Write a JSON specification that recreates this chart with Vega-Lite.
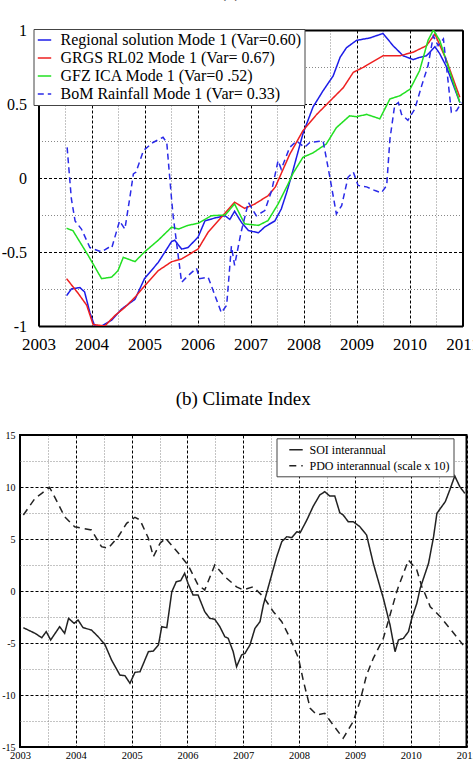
{
  "$schema": "https://vega.github.io/schema/vega-lite/v6.json",
  "padding": {"left": 0, "top": -18, "right": 0, "bottom": 0},
  "autosize": {"type": "pad"},
  "background": "white",
  "spacing": 37,
  "resolve": {"scale": {"color": "independent", "strokeDash": "independent"}, "legend": {"color": "independent", "strokeDash": "independent"}},
  "datasets": {
    "pca": [
      {"s": "Regional solution Mode 1 (Var=0.60)", "t": 2003.53, "v": -0.795},
      {"s": "Regional solution Mode 1 (Var=0.60)", "t": 2003.62, "v": -0.75},
      {"s": "Regional solution Mode 1 (Var=0.60)", "t": 2003.78, "v": -0.74},
      {"s": "Regional solution Mode 1 (Var=0.60)", "t": 2003.87, "v": -0.77},
      {"s": "Regional solution Mode 1 (Var=0.60)", "t": 2003.97, "v": -0.91},
      {"s": "Regional solution Mode 1 (Var=0.60)", "t": 2004.06, "v": -1.0},
      {"s": "Regional solution Mode 1 (Var=0.60)", "t": 2004.19, "v": -1.0},
      {"s": "Regional solution Mode 1 (Var=0.60)", "t": 2004.38, "v": -0.96},
      {"s": "Regional solution Mode 1 (Var=0.60)", "t": 2004.57, "v": -0.885},
      {"s": "Regional solution Mode 1 (Var=0.60)", "t": 2004.82, "v": -0.82},
      {"s": "Regional solution Mode 1 (Var=0.60)", "t": 2005.0, "v": -0.68},
      {"s": "Regional solution Mode 1 (Var=0.60)", "t": 2005.26, "v": -0.57},
      {"s": "Regional solution Mode 1 (Var=0.60)", "t": 2005.51, "v": -0.43},
      {"s": "Regional solution Mode 1 (Var=0.60)", "t": 2005.57, "v": -0.42},
      {"s": "Regional solution Mode 1 (Var=0.60)", "t": 2005.70, "v": -0.48},
      {"s": "Regional solution Mode 1 (Var=0.60)", "t": 2005.82, "v": -0.47},
      {"s": "Regional solution Mode 1 (Var=0.60)", "t": 2006.01, "v": -0.40},
      {"s": "Regional solution Mode 1 (Var=0.60)", "t": 2006.14, "v": -0.29},
      {"s": "Regional solution Mode 1 (Var=0.60)", "t": 2006.33, "v": -0.27},
      {"s": "Regional solution Mode 1 (Var=0.60)", "t": 2006.52, "v": -0.255},
      {"s": "Regional solution Mode 1 (Var=0.60)", "t": 2006.61, "v": -0.28},
      {"s": "Regional solution Mode 1 (Var=0.60)", "t": 2006.70, "v": -0.225},
      {"s": "Regional solution Mode 1 (Var=0.60)", "t": 2006.83, "v": -0.30},
      {"s": "Regional solution Mode 1 (Var=0.60)", "t": 2006.96, "v": -0.355},
      {"s": "Regional solution Mode 1 (Var=0.60)", "t": 2007.15, "v": -0.37},
      {"s": "Regional solution Mode 1 (Var=0.60)", "t": 2007.27, "v": -0.33},
      {"s": "Regional solution Mode 1 (Var=0.60)", "t": 2007.46, "v": -0.29},
      {"s": "Regional solution Mode 1 (Var=0.60)", "t": 2007.58, "v": -0.21},
      {"s": "Regional solution Mode 1 (Var=0.60)", "t": 2007.68, "v": -0.10},
      {"s": "Regional solution Mode 1 (Var=0.60)", "t": 2007.77, "v": 0.01},
      {"s": "Regional solution Mode 1 (Var=0.60)", "t": 2007.99, "v": 0.30},
      {"s": "Regional solution Mode 1 (Var=0.60)", "t": 2008.18, "v": 0.48},
      {"s": "Regional solution Mode 1 (Var=0.60)", "t": 2008.37, "v": 0.59},
      {"s": "Regional solution Mode 1 (Var=0.60)", "t": 2008.56, "v": 0.69},
      {"s": "Regional solution Mode 1 (Var=0.60)", "t": 2008.69, "v": 0.815},
      {"s": "Regional solution Mode 1 (Var=0.60)", "t": 2008.81, "v": 0.88},
      {"s": "Regional solution Mode 1 (Var=0.60)", "t": 2009.0, "v": 0.93},
      {"s": "Regional solution Mode 1 (Var=0.60)", "t": 2009.25, "v": 0.946},
      {"s": "Regional solution Mode 1 (Var=0.60)", "t": 2009.50, "v": 0.977},
      {"s": "Regional solution Mode 1 (Var=0.60)", "t": 2009.69, "v": 0.894},
      {"s": "Regional solution Mode 1 (Var=0.60)", "t": 2009.88, "v": 0.826},
      {"s": "Regional solution Mode 1 (Var=0.60)", "t": 2010.07, "v": 0.80},
      {"s": "Regional solution Mode 1 (Var=0.60)", "t": 2010.19, "v": 0.815},
      {"s": "Regional solution Mode 1 (Var=0.60)", "t": 2010.32, "v": 0.826},
      {"s": "Regional solution Mode 1 (Var=0.60)", "t": 2010.48, "v": 0.887},
      {"s": "Regional solution Mode 1 (Var=0.60)", "t": 2010.57, "v": 0.84},
      {"s": "Regional solution Mode 1 (Var=0.60)", "t": 2010.70, "v": 0.75},
      {"s": "Regional solution Mode 1 (Var=0.60)", "t": 2010.95, "v": 0.51},

      {"s": "GRGS RL02 Mode 1 (Var= 0.67)", "t": 2003.53, "v": -0.68},
      {"s": "GRGS RL02 Mode 1 (Var= 0.67)", "t": 2003.75, "v": -0.78},
      {"s": "GRGS RL02 Mode 1 (Var= 0.67)", "t": 2003.91, "v": -0.86},
      {"s": "GRGS RL02 Mode 1 (Var= 0.67)", "t": 2004.03, "v": -0.99},
      {"s": "GRGS RL02 Mode 1 (Var= 0.67)", "t": 2004.25, "v": -1.0},
      {"s": "GRGS RL02 Mode 1 (Var= 0.67)", "t": 2004.44, "v": -0.93},
      {"s": "GRGS RL02 Mode 1 (Var= 0.67)", "t": 2004.63, "v": -0.874},
      {"s": "GRGS RL02 Mode 1 (Var= 0.67)", "t": 2004.82, "v": -0.806},
      {"s": "GRGS RL02 Mode 1 (Var= 0.67)", "t": 2005.0, "v": -0.73},
      {"s": "GRGS RL02 Mode 1 (Var= 0.67)", "t": 2005.26, "v": -0.626},
      {"s": "GRGS RL02 Mode 1 (Var= 0.67)", "t": 2005.51, "v": -0.566},
      {"s": "GRGS RL02 Mode 1 (Var= 0.67)", "t": 2005.70, "v": -0.547},
      {"s": "GRGS RL02 Mode 1 (Var= 0.67)", "t": 2006.01, "v": -0.48},
      {"s": "GRGS RL02 Mode 1 (Var= 0.67)", "t": 2006.20, "v": -0.367},
      {"s": "GRGS RL02 Mode 1 (Var= 0.67)", "t": 2006.45, "v": -0.266},
      {"s": "GRGS RL02 Mode 1 (Var= 0.67)", "t": 2006.70, "v": -0.164},
      {"s": "GRGS RL02 Mode 1 (Var= 0.67)", "t": 2006.89, "v": -0.205},
      {"s": "GRGS RL02 Mode 1 (Var= 0.67)", "t": 2007.08, "v": -0.176},
      {"s": "GRGS RL02 Mode 1 (Var= 0.67)", "t": 2007.33, "v": -0.12},
      {"s": "GRGS RL02 Mode 1 (Var= 0.67)", "t": 2007.47, "v": -0.06},
      {"s": "GRGS RL02 Mode 1 (Var= 0.67)", "t": 2007.58, "v": 0.03},
      {"s": "GRGS RL02 Mode 1 (Var= 0.67)", "t": 2007.74, "v": 0.16},
      {"s": "GRGS RL02 Mode 1 (Var= 0.67)", "t": 2007.99, "v": 0.32},
      {"s": "GRGS RL02 Mode 1 (Var= 0.67)", "t": 2008.25, "v": 0.43},
      {"s": "GRGS RL02 Mode 1 (Var= 0.67)", "t": 2008.50, "v": 0.52},
      {"s": "GRGS RL02 Mode 1 (Var= 0.67)", "t": 2008.75, "v": 0.61},
      {"s": "GRGS RL02 Mode 1 (Var= 0.67)", "t": 2008.94, "v": 0.714},
      {"s": "GRGS RL02 Mode 1 (Var= 0.67)", "t": 2009.13, "v": 0.748},
      {"s": "GRGS RL02 Mode 1 (Var= 0.67)", "t": 2009.50, "v": 0.826},
      {"s": "GRGS RL02 Mode 1 (Var= 0.67)", "t": 2009.82, "v": 0.826},
      {"s": "GRGS RL02 Mode 1 (Var= 0.67)", "t": 2010.07, "v": 0.85},
      {"s": "GRGS RL02 Mode 1 (Var= 0.67)", "t": 2010.32, "v": 0.894},
      {"s": "GRGS RL02 Mode 1 (Var= 0.67)", "t": 2010.48, "v": 0.973},
      {"s": "GRGS RL02 Mode 1 (Var= 0.67)", "t": 2010.70, "v": 0.793},
      {"s": "GRGS RL02 Mode 1 (Var= 0.67)", "t": 2010.95, "v": 0.545},

      {"s": "GFZ ICA Mode 1 (Var=0 .52)", "t": 2003.53, "v": -0.34},
      {"s": "GFZ ICA Mode 1 (Var=0 .52)", "t": 2003.65, "v": -0.356},
      {"s": "GFZ ICA Mode 1 (Var=0 .52)", "t": 2003.94, "v": -0.525},
      {"s": "GFZ ICA Mode 1 (Var=0 .52)", "t": 2004.19, "v": -0.68},
      {"s": "GFZ ICA Mode 1 (Var=0 .52)", "t": 2004.38, "v": -0.67},
      {"s": "GFZ ICA Mode 1 (Var=0 .52)", "t": 2004.50, "v": -0.626},
      {"s": "GFZ ICA Mode 1 (Var=0 .52)", "t": 2004.60, "v": -0.536},
      {"s": "GFZ ICA Mode 1 (Var=0 .52)", "t": 2004.82, "v": -0.565},
      {"s": "GFZ ICA Mode 1 (Var=0 .52)", "t": 2005.0, "v": -0.50},
      {"s": "GFZ ICA Mode 1 (Var=0 .52)", "t": 2005.26, "v": -0.42},
      {"s": "GFZ ICA Mode 1 (Var=0 .52)", "t": 2005.51, "v": -0.333},
      {"s": "GFZ ICA Mode 1 (Var=0 .52)", "t": 2005.64, "v": -0.345},
      {"s": "GFZ ICA Mode 1 (Var=0 .52)", "t": 2005.82, "v": -0.32},
      {"s": "GFZ ICA Mode 1 (Var=0 .52)", "t": 2006.01, "v": -0.306},
      {"s": "GFZ ICA Mode 1 (Var=0 .52)", "t": 2006.26, "v": -0.255},
      {"s": "GFZ ICA Mode 1 (Var=0 .52)", "t": 2006.52, "v": -0.25},
      {"s": "GFZ ICA Mode 1 (Var=0 .52)", "t": 2006.70, "v": -0.176},
      {"s": "GFZ ICA Mode 1 (Var=0 .52)", "t": 2006.89, "v": -0.31},
      {"s": "GFZ ICA Mode 1 (Var=0 .52)", "t": 2007.15, "v": -0.32},
      {"s": "GFZ ICA Mode 1 (Var=0 .52)", "t": 2007.33, "v": -0.288},
      {"s": "GFZ ICA Mode 1 (Var=0 .52)", "t": 2007.52, "v": -0.176},
      {"s": "GFZ ICA Mode 1 (Var=0 .52)", "t": 2007.71, "v": -0.04},
      {"s": "GFZ ICA Mode 1 (Var=0 .52)", "t": 2007.80, "v": 0.03},
      {"s": "GFZ ICA Mode 1 (Var=0 .52)", "t": 2007.99, "v": 0.14},
      {"s": "GFZ ICA Mode 1 (Var=0 .52)", "t": 2008.18, "v": 0.17},
      {"s": "GFZ ICA Mode 1 (Var=0 .52)", "t": 2008.43, "v": 0.23},
      {"s": "GFZ ICA Mode 1 (Var=0 .52)", "t": 2008.62, "v": 0.34},
      {"s": "GFZ ICA Mode 1 (Var=0 .52)", "t": 2008.87, "v": 0.42},
      {"s": "GFZ ICA Mode 1 (Var=0 .52)", "t": 2009.0, "v": 0.414},
      {"s": "GFZ ICA Mode 1 (Var=0 .52)", "t": 2009.19, "v": 0.43},
      {"s": "GFZ ICA Mode 1 (Var=0 .52)", "t": 2009.44, "v": 0.40},
      {"s": "GFZ ICA Mode 1 (Var=0 .52)", "t": 2009.63, "v": 0.534},
      {"s": "GFZ ICA Mode 1 (Var=0 .52)", "t": 2009.82, "v": 0.556},
      {"s": "GFZ ICA Mode 1 (Var=0 .52)", "t": 2010.01, "v": 0.60},
      {"s": "GFZ ICA Mode 1 (Var=0 .52)", "t": 2010.19, "v": 0.725},
      {"s": "GFZ ICA Mode 1 (Var=0 .52)", "t": 2010.35, "v": 0.93},
      {"s": "GFZ ICA Mode 1 (Var=0 .52)", "t": 2010.45, "v": 1.0},
      {"s": "GFZ ICA Mode 1 (Var=0 .52)", "t": 2010.57, "v": 0.93},
      {"s": "GFZ ICA Mode 1 (Var=0 .52)", "t": 2010.95, "v": 0.51},

      {"s": "BoM Rainfall Mode 1 (Var= 0.33)", "t": 2003.54, "v": 0.207},
      {"s": "BoM Rainfall Mode 1 (Var= 0.33)", "t": 2003.62, "v": -0.14},
      {"s": "BoM Rainfall Mode 1 (Var= 0.33)", "t": 2003.69, "v": -0.29},
      {"s": "BoM Rainfall Mode 1 (Var= 0.33)", "t": 2003.81, "v": -0.345},
      {"s": "BoM Rainfall Mode 1 (Var= 0.33)", "t": 2003.97, "v": -0.47},
      {"s": "BoM Rainfall Mode 1 (Var= 0.33)", "t": 2004.19, "v": -0.50},
      {"s": "BoM Rainfall Mode 1 (Var= 0.33)", "t": 2004.32, "v": -0.47},
      {"s": "BoM Rainfall Mode 1 (Var= 0.33)", "t": 2004.38, "v": -0.475},
      {"s": "BoM Rainfall Mode 1 (Var= 0.33)", "t": 2004.53, "v": -0.29},
      {"s": "BoM Rainfall Mode 1 (Var= 0.33)", "t": 2004.63, "v": -0.345},
      {"s": "BoM Rainfall Mode 1 (Var= 0.33)", "t": 2004.72, "v": -0.14},
      {"s": "BoM Rainfall Mode 1 (Var= 0.33)", "t": 2004.79, "v": 0.027},
      {"s": "BoM Rainfall Mode 1 (Var= 0.33)", "t": 2004.84, "v": 0.04},
      {"s": "BoM Rainfall Mode 1 (Var= 0.33)", "t": 2004.98, "v": 0.185},
      {"s": "BoM Rainfall Mode 1 (Var= 0.33)", "t": 2005.16, "v": 0.24},
      {"s": "BoM Rainfall Mode 1 (Var= 0.33)", "t": 2005.35, "v": 0.275},
      {"s": "BoM Rainfall Mode 1 (Var= 0.33)", "t": 2005.42, "v": 0.24},
      {"s": "BoM Rainfall Mode 1 (Var= 0.33)", "t": 2005.51, "v": -0.14},
      {"s": "BoM Rainfall Mode 1 (Var= 0.33)", "t": 2005.54, "v": -0.255},
      {"s": "BoM Rainfall Mode 1 (Var= 0.33)", "t": 2005.70, "v": -0.705},
      {"s": "BoM Rainfall Mode 1 (Var= 0.33)", "t": 2005.82, "v": -0.66},
      {"s": "BoM Rainfall Mode 1 (Var= 0.33)", "t": 2005.98, "v": -0.61},
      {"s": "BoM Rainfall Mode 1 (Var= 0.33)", "t": 2006.04, "v": -0.68},
      {"s": "BoM Rainfall Mode 1 (Var= 0.33)", "t": 2006.20, "v": -0.67},
      {"s": "BoM Rainfall Mode 1 (Var= 0.33)", "t": 2006.45, "v": -0.91},
      {"s": "BoM Rainfall Mode 1 (Var= 0.33)", "t": 2006.55, "v": -0.86},
      {"s": "BoM Rainfall Mode 1 (Var= 0.33)", "t": 2006.64, "v": -0.46},
      {"s": "BoM Rainfall Mode 1 (Var= 0.33)", "t": 2006.70, "v": -0.59},
      {"s": "BoM Rainfall Mode 1 (Var= 0.33)", "t": 2006.82, "v": -0.37},
      {"s": "BoM Rainfall Mode 1 (Var= 0.33)", "t": 2006.96, "v": -0.165},
      {"s": "BoM Rainfall Mode 1 (Var= 0.33)", "t": 2007.11, "v": -0.255},
      {"s": "BoM Rainfall Mode 1 (Var= 0.33)", "t": 2007.27, "v": -0.22},
      {"s": "BoM Rainfall Mode 1 (Var= 0.33)", "t": 2007.40, "v": -0.085},
      {"s": "BoM Rainfall Mode 1 (Var= 0.33)", "t": 2007.52, "v": 0.117},
      {"s": "BoM Rainfall Mode 1 (Var= 0.33)", "t": 2007.58, "v": 0.06},
      {"s": "BoM Rainfall Mode 1 (Var= 0.33)", "t": 2007.74, "v": 0.207},
      {"s": "BoM Rainfall Mode 1 (Var= 0.33)", "t": 2007.87, "v": 0.25},
      {"s": "BoM Rainfall Mode 1 (Var= 0.33)", "t": 2008.02, "v": 0.207},
      {"s": "BoM Rainfall Mode 1 (Var= 0.33)", "t": 2008.12, "v": 0.24},
      {"s": "BoM Rainfall Mode 1 (Var= 0.33)", "t": 2008.37, "v": 0.25},
      {"s": "BoM Rainfall Mode 1 (Var= 0.33)", "t": 2008.50, "v": 0.0},
      {"s": "BoM Rainfall Mode 1 (Var= 0.33)", "t": 2008.62, "v": -0.243},
      {"s": "BoM Rainfall Mode 1 (Var= 0.33)", "t": 2008.72, "v": -0.187},
      {"s": "BoM Rainfall Mode 1 (Var= 0.33)", "t": 2008.84, "v": 0.005},
      {"s": "BoM Rainfall Mode 1 (Var= 0.33)", "t": 2008.94, "v": 0.04},
      {"s": "BoM Rainfall Mode 1 (Var= 0.33)", "t": 2009.03, "v": -0.05},
      {"s": "BoM Rainfall Mode 1 (Var= 0.33)", "t": 2009.19, "v": -0.06},
      {"s": "BoM Rainfall Mode 1 (Var= 0.33)", "t": 2009.35, "v": -0.085},
      {"s": "BoM Rainfall Mode 1 (Var= 0.33)", "t": 2009.47, "v": -0.10},
      {"s": "BoM Rainfall Mode 1 (Var= 0.33)", "t": 2009.57, "v": -0.05},
      {"s": "BoM Rainfall Mode 1 (Var= 0.33)", "t": 2009.63, "v": 0.26},
      {"s": "BoM Rainfall Mode 1 (Var= 0.33)", "t": 2009.72, "v": 0.49},
      {"s": "BoM Rainfall Mode 1 (Var= 0.33)", "t": 2009.79, "v": 0.51},
      {"s": "BoM Rainfall Mode 1 (Var= 0.33)", "t": 2009.85, "v": 0.43},
      {"s": "BoM Rainfall Mode 1 (Var= 0.33)", "t": 2009.97, "v": 0.39},
      {"s": "BoM Rainfall Mode 1 (Var= 0.33)", "t": 2010.10, "v": 0.466},
      {"s": "BoM Rainfall Mode 1 (Var= 0.33)", "t": 2010.23, "v": 0.624},
      {"s": "BoM Rainfall Mode 1 (Var= 0.33)", "t": 2010.35, "v": 0.76},
      {"s": "BoM Rainfall Mode 1 (Var= 0.33)", "t": 2010.45, "v": 0.96},
      {"s": "BoM Rainfall Mode 1 (Var= 0.33)", "t": 2010.54, "v": 0.894},
      {"s": "BoM Rainfall Mode 1 (Var= 0.33)", "t": 2010.64, "v": 0.94},
      {"s": "BoM Rainfall Mode 1 (Var= 0.33)", "t": 2010.73, "v": 0.647},
      {"s": "BoM Rainfall Mode 1 (Var= 0.33)", "t": 2010.79, "v": 0.444},
      {"s": "BoM Rainfall Mode 1 (Var= 0.33)", "t": 2010.89, "v": 0.455},
      {"s": "BoM Rainfall Mode 1 (Var= 0.33)", "t": 2010.98, "v": 0.51}
    ],
    "climate": [
      {"s": "SOI interannual", "t": 2003.06, "v": -3.53},
      {"s": "SOI interannual", "t": 2003.27, "v": -4.07},
      {"s": "SOI interannual", "t": 2003.39, "v": -4.49},
      {"s": "SOI interannual", "t": 2003.47, "v": -3.91},
      {"s": "SOI interannual", "t": 2003.55, "v": -4.71},
      {"s": "SOI interannual", "t": 2003.71, "v": -3.43},
      {"s": "SOI interannual", "t": 2003.80, "v": -4.07},
      {"s": "SOI interannual", "t": 2003.87, "v": -2.63},
      {"s": "SOI interannual", "t": 2003.97, "v": -3.11},
      {"s": "SOI interannual", "t": 2004.04, "v": -2.79},
      {"s": "SOI interannual", "t": 2004.13, "v": -3.53},
      {"s": "SOI interannual", "t": 2004.28, "v": -3.75},
      {"s": "SOI interannual", "t": 2004.40, "v": -4.39},
      {"s": "SOI interannual", "t": 2004.52, "v": -5.13},
      {"s": "SOI interannual", "t": 2004.64, "v": -6.63},
      {"s": "SOI interannual", "t": 2004.79, "v": -8.08},
      {"s": "SOI interannual", "t": 2004.88, "v": -8.14},
      {"s": "SOI interannual", "t": 2004.97, "v": -8.87},
      {"s": "SOI interannual", "t": 2005.06, "v": -7.82},
      {"s": "SOI interannual", "t": 2005.15, "v": -7.76},
      {"s": "SOI interannual", "t": 2005.30, "v": -5.84},
      {"s": "SOI interannual", "t": 2005.39, "v": -5.77},
      {"s": "SOI interannual", "t": 2005.48, "v": -5.19},
      {"s": "SOI interannual", "t": 2005.54, "v": -3.43},
      {"s": "SOI interannual", "t": 2005.63, "v": -3.53},
      {"s": "SOI interannual", "t": 2005.72, "v": -0.07},
      {"s": "SOI interannual", "t": 2005.80, "v": 0.89},
      {"s": "SOI interannual", "t": 2005.88, "v": 1.0},
      {"s": "SOI interannual", "t": 2005.95, "v": 1.70},
      {"s": "SOI interannual", "t": 2006.01, "v": 0.74},
      {"s": "SOI interannual", "t": 2006.10, "v": -0.38},
      {"s": "SOI interannual", "t": 2006.19, "v": -0.38},
      {"s": "SOI interannual", "t": 2006.31, "v": -1.99},
      {"s": "SOI interannual", "t": 2006.40, "v": -2.63},
      {"s": "SOI interannual", "t": 2006.49, "v": -2.72},
      {"s": "SOI interannual", "t": 2006.58, "v": -3.43},
      {"s": "SOI interannual", "t": 2006.67, "v": -4.39},
      {"s": "SOI interannual", "t": 2006.73, "v": -4.55},
      {"s": "SOI interannual", "t": 2006.82, "v": -5.84},
      {"s": "SOI interannual", "t": 2006.88, "v": -7.28},
      {"s": "SOI interannual", "t": 2006.97, "v": -6.15},
      {"s": "SOI interannual", "t": 2007.03, "v": -6.0},
      {"s": "SOI interannual", "t": 2007.12, "v": -5.19},
      {"s": "SOI interannual", "t": 2007.21, "v": -3.59},
      {"s": "SOI interannual", "t": 2007.30, "v": -2.95},
      {"s": "SOI interannual", "t": 2007.36, "v": -1.35},
      {"s": "SOI interannual", "t": 2007.45, "v": 0.41},
      {"s": "SOI interannual", "t": 2007.60, "v": 3.30},
      {"s": "SOI interannual", "t": 2007.69, "v": 4.74},
      {"s": "SOI interannual", "t": 2007.78, "v": 5.22},
      {"s": "SOI interannual", "t": 2007.87, "v": 5.13},
      {"s": "SOI interannual", "t": 2007.96, "v": 5.70},
      {"s": "SOI interannual", "t": 2008.02, "v": 5.61},
      {"s": "SOI interannual", "t": 2008.14, "v": 6.83},
      {"s": "SOI interannual", "t": 2008.25, "v": 8.11},
      {"s": "SOI interannual", "t": 2008.37, "v": 9.23},
      {"s": "SOI interannual", "t": 2008.46, "v": 9.55},
      {"s": "SOI interannual", "t": 2008.55, "v": 9.13},
      {"s": "SOI interannual", "t": 2008.64, "v": 9.13},
      {"s": "SOI interannual", "t": 2008.73, "v": 7.53},
      {"s": "SOI interannual", "t": 2008.79, "v": 7.31},
      {"s": "SOI interannual", "t": 2008.88, "v": 6.67},
      {"s": "SOI interannual", "t": 2008.97, "v": 6.67},
      {"s": "SOI interannual", "t": 2009.09, "v": 6.18},
      {"s": "SOI interannual", "t": 2009.21, "v": 5.38},
      {"s": "SOI interannual", "t": 2009.33, "v": 2.66},
      {"s": "SOI interannual", "t": 2009.45, "v": 0.41},
      {"s": "SOI interannual", "t": 2009.51, "v": -0.70},
      {"s": "SOI interannual", "t": 2009.63, "v": -3.27},
      {"s": "SOI interannual", "t": 2009.72, "v": -5.84},
      {"s": "SOI interannual", "t": 2009.78, "v": -4.71},
      {"s": "SOI interannual", "t": 2009.87, "v": -4.55},
      {"s": "SOI interannual", "t": 2009.96, "v": -3.91},
      {"s": "SOI interannual", "t": 2010.02, "v": -2.63},
      {"s": "SOI interannual", "t": 2010.11, "v": -1.19},
      {"s": "SOI interannual", "t": 2010.17, "v": 0.26},
      {"s": "SOI interannual", "t": 2010.26, "v": 1.70},
      {"s": "SOI interannual", "t": 2010.32, "v": 2.66},
      {"s": "SOI interannual", "t": 2010.41, "v": 5.22},
      {"s": "SOI interannual", "t": 2010.47, "v": 7.47},
      {"s": "SOI interannual", "t": 2010.62, "v": 8.59},
      {"s": "SOI interannual", "t": 2010.70, "v": 9.71},
      {"s": "SOI interannual", "t": 2010.79, "v": 11.06},
      {"s": "SOI interannual", "t": 2010.88, "v": 10.03},
      {"s": "SOI interannual", "t": 2010.97, "v": 9.39},

      {"s": "PDO interannual (scale x 10)", "t": 2003.06, "v": 7.31},
      {"s": "PDO interannual (scale x 10)", "t": 2003.27, "v": 8.91},
      {"s": "PDO interannual (scale x 10)", "t": 2003.39, "v": 9.39},
      {"s": "PDO interannual (scale x 10)", "t": 2003.53, "v": 9.97},
      {"s": "PDO interannual (scale x 10)", "t": 2003.68, "v": 8.43},
      {"s": "PDO interannual (scale x 10)", "t": 2003.80, "v": 7.14},
      {"s": "PDO interannual (scale x 10)", "t": 2003.98, "v": 6.18},
      {"s": "PDO interannual (scale x 10)", "t": 2004.28, "v": 5.87},
      {"s": "PDO interannual (scale x 10)", "t": 2004.46, "v": 4.26},
      {"s": "PDO interannual (scale x 10)", "t": 2004.58, "v": 4.10},
      {"s": "PDO interannual (scale x 10)", "t": 2004.76, "v": 5.22},
      {"s": "PDO interannual (scale x 10)", "t": 2004.91, "v": 6.51},
      {"s": "PDO interannual (scale x 10)", "t": 2005.06, "v": 7.09},
      {"s": "PDO interannual (scale x 10)", "t": 2005.15, "v": 6.83},
      {"s": "PDO interannual (scale x 10)", "t": 2005.30, "v": 5.07},
      {"s": "PDO interannual (scale x 10)", "t": 2005.39, "v": 3.30},
      {"s": "PDO interannual (scale x 10)", "t": 2005.51, "v": 4.59},
      {"s": "PDO interannual (scale x 10)", "t": 2005.61, "v": 5.07},
      {"s": "PDO interannual (scale x 10)", "t": 2005.84, "v": 3.63},
      {"s": "PDO interannual (scale x 10)", "t": 2006.01, "v": 2.50},
      {"s": "PDO interannual (scale x 10)", "t": 2006.19, "v": 0.58},
      {"s": "PDO interannual (scale x 10)", "t": 2006.31, "v": 0.10},
      {"s": "PDO interannual (scale x 10)", "t": 2006.49, "v": 2.50},
      {"s": "PDO interannual (scale x 10)", "t": 2006.67, "v": 1.38},
      {"s": "PDO interannual (scale x 10)", "t": 2006.88, "v": 0.40},
      {"s": "PDO interannual (scale x 10)", "t": 2007.0, "v": 0.10},
      {"s": "PDO interannual (scale x 10)", "t": 2007.18, "v": 0.41},
      {"s": "PDO interannual (scale x 10)", "t": 2007.36, "v": -0.55},
      {"s": "PDO interannual (scale x 10)", "t": 2007.54, "v": -1.99},
      {"s": "PDO interannual (scale x 10)", "t": 2007.69, "v": -2.95},
      {"s": "PDO interannual (scale x 10)", "t": 2007.84, "v": -4.55},
      {"s": "PDO interannual (scale x 10)", "t": 2007.99, "v": -6.47},
      {"s": "PDO interannual (scale x 10)", "t": 2008.08, "v": -8.71},
      {"s": "PDO interannual (scale x 10)", "t": 2008.20, "v": -11.28},
      {"s": "PDO interannual (scale x 10)", "t": 2008.32, "v": -11.92},
      {"s": "PDO interannual (scale x 10)", "t": 2008.46, "v": -11.76},
      {"s": "PDO interannual (scale x 10)", "t": 2008.61, "v": -12.88},
      {"s": "PDO interannual (scale x 10)", "t": 2008.79, "v": -14.16},
      {"s": "PDO interannual (scale x 10)", "t": 2008.97, "v": -12.56},
      {"s": "PDO interannual (scale x 10)", "t": 2009.09, "v": -10.64},
      {"s": "PDO interannual (scale x 10)", "t": 2009.21, "v": -8.08},
      {"s": "PDO interannual (scale x 10)", "t": 2009.33, "v": -6.47},
      {"s": "PDO interannual (scale x 10)", "t": 2009.51, "v": -4.55},
      {"s": "PDO interannual (scale x 10)", "t": 2009.63, "v": -2.31},
      {"s": "PDO interannual (scale x 10)", "t": 2009.75, "v": -0.07},
      {"s": "PDO interannual (scale x 10)", "t": 2009.78, "v": 0.41},
      {"s": "PDO interannual (scale x 10)", "t": 2009.96, "v": 2.98},
      {"s": "PDO interannual (scale x 10)", "t": 2010.11, "v": 2.02},
      {"s": "PDO interannual (scale x 10)", "t": 2010.20, "v": 0.41},
      {"s": "PDO interannual (scale x 10)", "t": 2010.23, "v": 0.10},
      {"s": "PDO interannual (scale x 10)", "t": 2010.35, "v": -1.51},
      {"s": "PDO interannual (scale x 10)", "t": 2010.53, "v": -2.47},
      {"s": "PDO interannual (scale x 10)", "t": 2010.70, "v": -3.59},
      {"s": "PDO interannual (scale x 10)", "t": 2010.94, "v": -5.19}
    ]
  },
  "vconcat": [
    {
      "width": 442.5,
      "height": 296,
      "view": {"stroke": null},
      "title": {"text": "(a) PCA", "fontSize": 19, "fontWeight": "normal", "font": "Liberation Serif", "color": "#000", "baseline": "alphabetic", "offset": 6, "anchor": "middle", "frame": "group", "dx": 10},
      "data": {"name": "pca"},
      "resolve": {"axis": {"x": "independent", "y": "independent"}},
      "layer": [
        {
          "mark": {"type": "line", "strokeWidth": 1.5, "clip": true},
          "encoding": {
            "x": {"field": "t", "type": "quantitative", "scale": {"domain": [2003, 2011], "range": [18.5, 442.5], "nice": false, "zero": false},
              "axis": {"title": null, "orient": "bottom", "values": [2003, 2003.5, 2004, 2004.5, 2005, 2005.5, 2006, 2006.5, 2007, 2007.5, 2008, 2008.5, 2009, 2009.5, 2010, 2010.5, 2011],
                "labelExpr": "datum.value % 1 === 0 ? toString(datum.value) : ''", "labelFontSize": 17, "labelPadding": 10,
                "domain": true, "domainColor": "#000", "domainWidth": 2,
                "gridDash": {"condition": {"test": "datum.value % 1 === 0", "value": [3, 2]}, "value": [1, 2]},
                "gridColor": {"condition": {"test": "datum.value % 1 === 0", "value": "#000"}, "value": "#888"}}},
            "y": {"field": "v", "type": "quantitative", "scale": {"domain": [-1, 1], "nice": false, "zero": false},
              "axis": {"title": null, "orient": "left", "offset": -18.5, "values": [-1, -0.75, -0.5, -0.25, 0, 0.25, 0.5, 0.75, 1],
                "labelExpr": "datum.value % 0.5 === 0 ? toString(datum.value) : ''", "labelFontSize": 16, "labelPadding": 12,
                "domain": true, "domainColor": "#000", "domainWidth": 2,
                "gridDash": {"condition": {"test": "datum.value % 0.5 === 0", "value": [3, 2]}, "value": [1, 2]},
                "gridColor": {"condition": {"test": "datum.value % 0.5 === 0", "value": "#000"}, "value": "#888"}}},
            "color": {"field": "s", "type": "nominal",
              "scale": {"domain": ["Regional solution Mode 1 (Var=0.60)", "GRGS RL02 Mode 1 (Var= 0.67)", "GFZ ICA Mode 1 (Var=0 .52)", "BoM Rainfall Mode 1 (Var= 0.33)"],
                "range": ["#1c1ce8", "#ee2020", "#22e022", "#2a2ae8"]},
              "legend": {"title": null, "orient": "none", "legendX": 13.5, "legendY": -1, "symbolType": "stroke", "symbolSize": 180, "symbolStrokeWidth": 1.5,
                "labelFontSize": 16, "labelOffset": 8, "padding": 3, "rowPadding": 2, "strokeColor": "#444", "fillColor": "#fff", "labelLimit": 400}},
            "strokeDash": {"field": "s", "type": "nominal",
              "scale": {"domain": ["Regional solution Mode 1 (Var=0.60)", "GRGS RL02 Mode 1 (Var= 0.67)", "GFZ ICA Mode 1 (Var=0 .52)", "BoM Rainfall Mode 1 (Var= 0.33)"],
                "range": [[1, 0], [1, 0], [1, 0], [6, 4]]}}
          }
        },
        {
          "mark": {"type": "line", "opacity": 0},
          "encoding": {
            "x": {"field": "t", "type": "quantitative",
              "axis": {"title": null, "orient": "top", "labels": false, "grid": false, "ticks": false, "domain": true, "domainColor": "#000", "domainWidth": 2}},
            "y": {"field": "v", "type": "quantitative",
              "axis": {"title": null, "orient": "right", "labels": false, "grid": false, "ticks": false, "domain": true, "domainColor": "#000", "domainWidth": 2}},
            "detail": {"field": "s", "type": "nominal"}
          }
        }
      ]
    },
    {
      "width": 446.5,
      "height": 312,
      "view": {"stroke": "#000", "strokeWidth": 2},
      "title": {"text": "(b) Climate Index", "fontSize": 19, "fontWeight": "normal", "font": "Liberation Serif", "color": "#000", "baseline": "alphabetic", "offset": 6, "anchor": "middle", "frame": "group"},
      "data": {"name": "climate"},
      "mark": {"type": "line", "strokeWidth": 1.5, "clip": true},
      "encoding": {
        "x": {"field": "t", "type": "quantitative", "scale": {"domain": [2003, 2011], "nice": false, "zero": false},
          "axis": {"title": null, "values": [2003, 2003.5, 2004, 2004.5, 2005, 2005.5, 2006, 2006.5, 2007, 2007.5, 2008, 2008.5, 2009, 2009.5, 2010, 2010.5, 2011],
            "labelExpr": "datum.value % 1 === 0 ? toString(datum.value) : ''", "labelFontSize": 10.5, "labelPadding": 3,
            "gridDash": {"condition": {"test": "datum.value % 1 === 0", "value": [3, 2]}, "value": [1, 2]},
            "gridColor": {"condition": {"test": "datum.value % 1 === 0", "value": "#000"}, "value": "#888"}}},
        "y": {"field": "v", "type": "quantitative", "scale": {"domain": [-15, 15], "nice": false, "zero": false},
          "axis": {"title": null, "values": [-15, -12.5, -10, -7.5, -5, -2.5, 0, 2.5, 5, 7.5, 10, 12.5, 15],
            "labelExpr": "datum.value % 5 === 0 ? toString(datum.value) : ''", "labelFontSize": 10, "labelPadding": 5,
            "gridDash": {"condition": {"test": "datum.value % 5 === 0", "value": [3, 2]}, "value": [1, 2]},
            "gridColor": {"condition": {"test": "datum.value % 5 === 0", "value": "#000"}, "value": "#888"}}},
        "color": {"field": "s", "type": "nominal",
          "scale": {"domain": ["SOI interannual", "PDO interannual (scale x 10)"], "range": ["#222", "#222"]},
          "legend": {"title": null, "orient": "none", "legendX": 256.5, "legendY": 3.3, "symbolType": "stroke", "symbolSize": 180, "symbolStrokeWidth": 1.5,
            "labelFontSize": 12, "labelOffset": 6, "symbolOffset": 8, "padding": 4, "rowPadding": 2, "strokeColor": "#444", "fillColor": "#fff", "labelLimit": 400}},
        "strokeDash": {"field": "s", "type": "nominal",
          "scale": {"domain": ["SOI interannual", "PDO interannual (scale x 10)"], "range": [[1, 0], [7, 5]]}}
      }
    }
  ],
  "config": {
    "font": "Liberation Serif",
    "view": {"stroke": null},
    "axis": {"ticks": false, "domain": false, "grid": true, "gridWidth": 1, "gridOpacity": 1, "labelFont": "Liberation Serif", "labelColor": "#000", "labelFlush": false, "labelOverlap": false, "labelBound": false},
    "legend": {"labelFont": "Liberation Serif", "labelColor": "#000"}
  }
}
